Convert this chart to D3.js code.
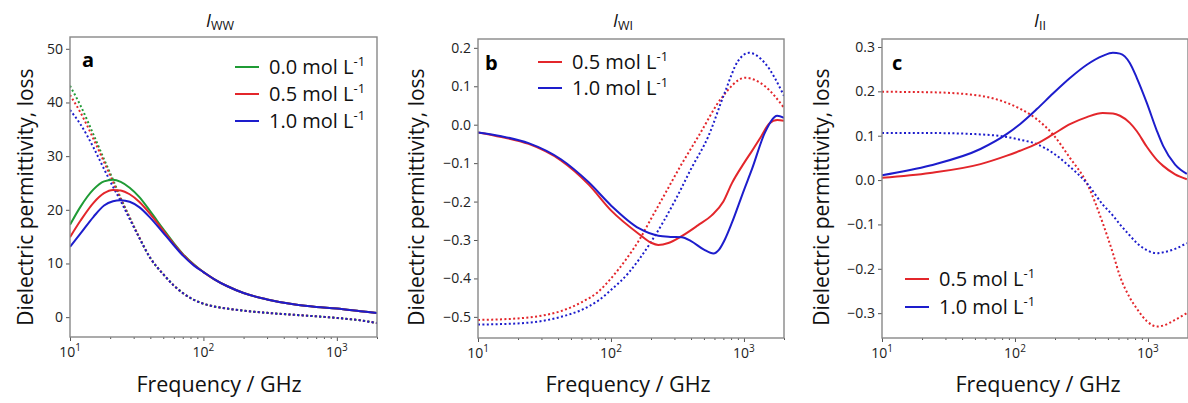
<!DOCTYPE html>
<html><head><meta charset="utf-8">
<script src="https://cdn.jsdelivr.net/npm/d3@7"></script>
<style>body{margin:0;background:#fff}svg{display:block}</style>
</head><body><svg id="c" width="1188" height="403"></svg>
<script>
// ---------- DATA ----------
const seriesLabels = ["0.0 mol L", "0.5 mol L", "1.0 mol L"];
const xTickLabels = ["1", "2", "3"]; // exponents for 10^n
const yTicksA = [0, 10, 20, 30, 40, 50];
const yTicksB = [-0.5, -0.4, -0.3, -0.2, -0.1, 0.0, 0.1, 0.2];
const yTicksC = [-0.3, -0.2, -0.1, 0.0, 0.1, 0.2, 0.3];

// Panel a (I_WW)
const freqA = [10, 12, 15, 18, 21, 24, 28, 33, 40, 50, 60, 70, 85, 100, 120, 150, 200, 300, 500, 700, 1000, 1500, 2000];
const aSolid00 = [17.2, 20.6, 23.8, 25.3, 25.6, 25.2, 24.1, 22.4, 19.7, 16.4, 13.8, 11.8, 9.8, 8.4, 7.1, 5.8, 4.5, 3.3, 2.3, 1.9, 1.6, 1.1, 0.75];
const aSolid05 = [14.9, 18.0, 21.3, 23.1, 23.7, 23.6, 22.9, 21.5, 19.2, 16.1, 13.6, 11.7, 9.7, 8.4, 7.1, 5.8, 4.5, 3.3, 2.3, 1.9, 1.6, 1.1, 0.75];
const aSolid10 = [13.1, 15.6, 18.7, 20.8, 21.6, 21.8, 21.5, 20.5, 18.5, 15.7, 13.4, 11.5, 9.6, 8.4, 7.1, 5.8, 4.5, 3.3, 2.3, 1.9, 1.6, 1.1, 0.75];
const aDot00 = [43.1, 39.4, 34.0, 29.4, 25.6, 22.2, 18.6, 14.9, 11.0, 8.0, 5.9, 4.5, 3.2, 2.5, 2.0, 1.6, 1.2, 0.8, 0.4, 0.15, -0.15, -0.6, -1.1];
const aDot05 = [41.4, 38.1, 33.2, 28.9, 25.2, 22.0, 18.5, 14.9, 11.0, 8.0, 5.9, 4.5, 3.2, 2.5, 2.0, 1.6, 1.2, 0.8, 0.4, 0.15, -0.15, -0.6, -1.1];
const aDot10 = [38.6, 35.9, 31.6, 27.6, 24.3, 21.6, 18.3, 14.8, 11.0, 8.0, 5.9, 4.5, 3.2, 2.5, 2.0, 1.6, 1.2, 0.8, 0.4, 0.15, -0.15, -0.6, -1.1];

// Panel b (I_WI)
const freqBSolid05 = [10, 15, 24, 42, 68, 100, 163, 200, 227, 270, 340, 450, 572, 700, 812, 1000, 1150, 1350, 1550, 1780, 2000];
const bSolid05 = [-0.02, -0.032, -0.05, -0.093, -0.156, -0.223, -0.285, -0.307, -0.313, -0.308, -0.29, -0.262, -0.236, -0.2, -0.152, -0.1, -0.068, -0.03, 0.003, 0.012, 0.01];
const freqBSolid10 = [10, 15, 24, 42, 68, 100, 163, 227, 280, 340, 400, 500, 590, 650, 720, 812, 1000, 1150, 1440, 1780, 2000];
const bSolid10 = [-0.02, -0.03, -0.048, -0.09, -0.15, -0.21, -0.27, -0.289, -0.292, -0.293, -0.303, -0.325, -0.335, -0.325, -0.298, -0.255, -0.17, -0.115, -0.02, 0.023, 0.018];
const freqBDot05 = [10, 20, 30, 42, 60, 80, 100, 130, 163, 200, 250, 330, 455, 680, 1020, 1440, 2000];
const bDot05 = [-0.508, -0.504, -0.497, -0.485, -0.462, -0.435, -0.40, -0.35, -0.30, -0.245, -0.185, -0.11, -0.03, 0.07, 0.122, 0.1, 0.044];
const freqBDot10 = [10, 20, 30, 42, 60, 80, 100, 136, 163, 200, 250, 311, 400, 540, 716, 900, 1090, 1440, 2000];
const bDot10 = [-0.52, -0.517, -0.511, -0.5, -0.482, -0.458, -0.43, -0.385, -0.35, -0.305, -0.25, -0.19, -0.115, -0.03, 0.083, 0.165, 0.187, 0.16, 0.075];

// Panel c (I_II)
const freqC = [10, 23, 55, 87, 109, 146, 193, 259, 347, 457, 545, 616, 730, 825, 980, 1170, 1300, 1600, 1960];
const cSolid05 = [0.005, 0.016, 0.036, 0.055, 0.066, 0.082, 0.103, 0.126, 0.142, 0.151, 0.15, 0.145, 0.129, 0.11, 0.075, 0.045, 0.032, 0.013, 0.002];
const cSolid10 = [0.011, 0.033, 0.07, 0.104, 0.126, 0.16, 0.195, 0.23, 0.26, 0.28, 0.287, 0.285, 0.264, 0.23, 0.174, 0.11, 0.077, 0.035, 0.014];
const cDot05 = [0.199, 0.198, 0.19, 0.174, 0.161, 0.137, 0.103, 0.05, -0.007, -0.097, -0.165, -0.217, -0.265, -0.29, -0.318, -0.33, -0.328, -0.315, -0.30];
const cDot10 = [0.106, 0.106, 0.103, 0.097, 0.091, 0.081, 0.061, 0.03, -0.007, -0.055, -0.08, -0.1, -0.125, -0.142, -0.158, -0.165, -0.163, -0.155, -0.142];

// ---------- RENDER ----------
const GREEN = "#1f9b35", RED = "#e3262b", BLUE = "#1d1dcc";
const svg = d3.select("#c");
const FONT = "'Open Sans', sans-serif";

function panel(cfg) {
  const x = d3.scaleLog().domain([10, 2000]).range([cfg.x0, cfg.x1]);
  const y = d3.scaleLinear().domain(cfg.yd).range([cfg.y1, cfg.y0]);
  const g = svg.append("g");
  const clipId = "clip" + cfg.letter;
  g.append("clipPath").attr("id", clipId).append("rect")
    .attr("x", cfg.x0).attr("y", cfg.y0).attr("width", cfg.x1 - cfg.x0).attr("height", cfg.y1 - cfg.y0);
  const line = d3.line().x(d => x(d[0])).y(d => y(d[1])).curve(d3.curveMonotoneX);
  const plot = g.append("g").attr("clip-path", `url(#${clipId})`);
  cfg.series.forEach(s => {
    plot.append("path").datum(s.f.map((f, i) => [f, s.v[i]]))
      .attr("d", line).attr("fill", "none").attr("stroke", s.c)
      .attr("stroke-width", 2)
      .attr("stroke-dasharray", s.dot ? "2,2.4" : null);
  });
  // axes
  g.append("g").attr("transform", `translate(0,${cfg.y1})`)
    .call(d3.axisBottom(x).tickValues([10, 100, 1000]).tickSize(4).tickFormat(""));
  const minor = [];
  for (let e = 1; e <= 3; e++) for (let m = 2; m <= 9; m++) { const v = m * Math.pow(10, e); if (v <= 2000) minor.push(v); }
  g.append("g").attr("transform", `translate(0,${cfg.y1})`)
    .call(d3.axisBottom(x).tickValues(minor).tickSize(2).tickFormat(""));
  g.append("g").attr("transform", `translate(${cfg.x0},0)`)
    .call(d3.axisLeft(y).tickValues(cfg.yt).tickSize(4).tickFormat(""));
  g.selectAll(".domain").remove();
  g.selectAll(".tick line").attr("stroke", "#555").attr("stroke-width", 1);
  g.append("rect").attr("x", cfg.x0).attr("y", cfg.y0).attr("width", cfg.x1 - cfg.x0).attr("height", cfg.y1 - cfg.y0)
    .attr("fill", "none").attr("stroke", "#888").attr("stroke-width", 1.4);
  // tick labels
  [10, 100, 1000].forEach((v, i) => {
    const t = g.append("text").attr("x", x(v)).attr("y", cfg.y1 + 20).attr("text-anchor", "middle")
      .attr("font-family", FONT).attr("font-size", 14).attr("fill", "#222");
    t.append("tspan").text("10");
    t.append("tspan").attr("dy", -6).attr("font-size", 10).text(xTickLabels[i]);
  });
  cfg.yt.forEach(v => {
    g.append("text").attr("x", cfg.x0 - 7).attr("y", y(v) + 5).attr("text-anchor", "end")
      .attr("font-family", FONT).attr("font-size", 14).attr("fill", "#222")
      .text(cfg.fmt(v));
  });
  // axis labels
  g.append("text").attr("x", cfg.xlc).attr("y", 392)
    .attr("text-anchor", "middle").attr("font-family", FONT).attr("font-size", 21.5).attr("fill", "#111")
    .text("Frequency / GHz");
  g.append("text").attr("transform", `translate(${cfg.ylx},${cfg.ylc}) rotate(-90)`)
    .attr("text-anchor", "middle").attr("font-family", FONT).attr("font-size", 21).attr("fill", "#111")
    .text("Dielectric permittivity, loss");
  // title
  const tt = g.append("text").attr("x", cfg.tx).attr("y", 27).attr("text-anchor", "middle")
    .attr("font-family", FONT).attr("font-size", 18).attr("fill", "#111");
  tt.append("tspan").attr("font-style", "italic").text("I");
  tt.append("tspan").attr("dy", 3).attr("font-size", 12.5).text(cfg.sub);
  // panel letter
  g.append("text").attr("x", cfg.lx).attr("y", cfg.ly).attr("font-family", FONT).attr("font-weight", "bold")
    .attr("font-size", 20).attr("fill", "#000").text(cfg.letter);
  // legend
  cfg.legend.forEach((l, i) => {
    const yy = cfg.lg.y + i * cfg.lg.dy;
    g.append("line").attr("x1", cfg.lg.x).attr("x2", cfg.lg.x + 24).attr("y1", yy).attr("y2", yy)
      .attr("stroke", l.c).attr("stroke-width", 2);
    const t = g.append("text").attr("x", cfg.lg.x + 34).attr("y", yy + 7)
      .attr("font-family", FONT).attr("font-size", 20).attr("fill", "#111");
    t.append("tspan").text(l.t);
    t.append("tspan").attr("dy", -8).attr("font-size", 13).text("-1");
  });
}

const fmt1 = v => (v < 0 ? "\u2212" : "") + Math.abs(v).toFixed(1);

panel({
  letter: "a", x0: 70, x1: 377, y0: 37, y1: 337, yd: [-3.7, 52.2], yt: yTicksA, fmt: v => String(v),
  ylx: 33, ylc: 197, xlc: 219, tx: 220, sub: "WW", lx: 82, ly: 67,
  series: [
    { f: freqA, v: aDot00, c: GREEN, dot: true }, { f: freqA, v: aDot05, c: RED, dot: true }, { f: freqA, v: aDot10, c: BLUE, dot: true },
    { f: freqA, v: aSolid00, c: GREEN }, { f: freqA, v: aSolid05, c: RED }, { f: freqA, v: aSolid10, c: BLUE }
  ],
  legend: [{ t: seriesLabels[0], c: GREEN }, { t: seriesLabels[1], c: RED }, { t: seriesLabels[2], c: BLUE }],
  lg: { x: 235, y: 67, dy: 27 }
});
panel({
  letter: "b", x0: 478, x1: 784, y0: 39, y1: 338, yd: [-0.555, 0.223], yt: yTicksB, fmt: fmt1,
  ylx: 424, ylc: 197, xlc: 628, tx: 623, sub: "WI", lx: 485, ly: 70,
  series: [
    { f: freqBDot05, v: bDot05, c: RED, dot: true }, { f: freqBDot10, v: bDot10, c: BLUE, dot: true },
    { f: freqBSolid05, v: bSolid05, c: RED }, { f: freqBSolid10, v: bSolid10, c: BLUE }
  ],
  legend: [{ t: seriesLabels[1], c: RED }, { t: seriesLabels[2], c: BLUE }],
  lg: { x: 538, y: 62, dy: 26 }
});
panel({
  letter: "c", x0: 882, x1: 1188, y0: 39, y1: 338, yd: [-0.356, 0.318], yt: yTicksC, fmt: fmt1,
  ylx: 829, ylc: 197, xlc: 1038, tx: 1040, sub: "II", lx: 892, ly: 70,
  series: [
    { f: freqC, v: cDot05, c: RED, dot: true }, { f: freqC, v: cDot10, c: BLUE, dot: true },
    { f: freqC, v: cSolid05, c: RED }, { f: freqC, v: cSolid10, c: BLUE }
  ],
  legend: [{ t: seriesLabels[1], c: RED }, { t: seriesLabels[2], c: BLUE }],
  lg: { x: 905, y: 279, dy: 28 }
});
</script></body></html>
